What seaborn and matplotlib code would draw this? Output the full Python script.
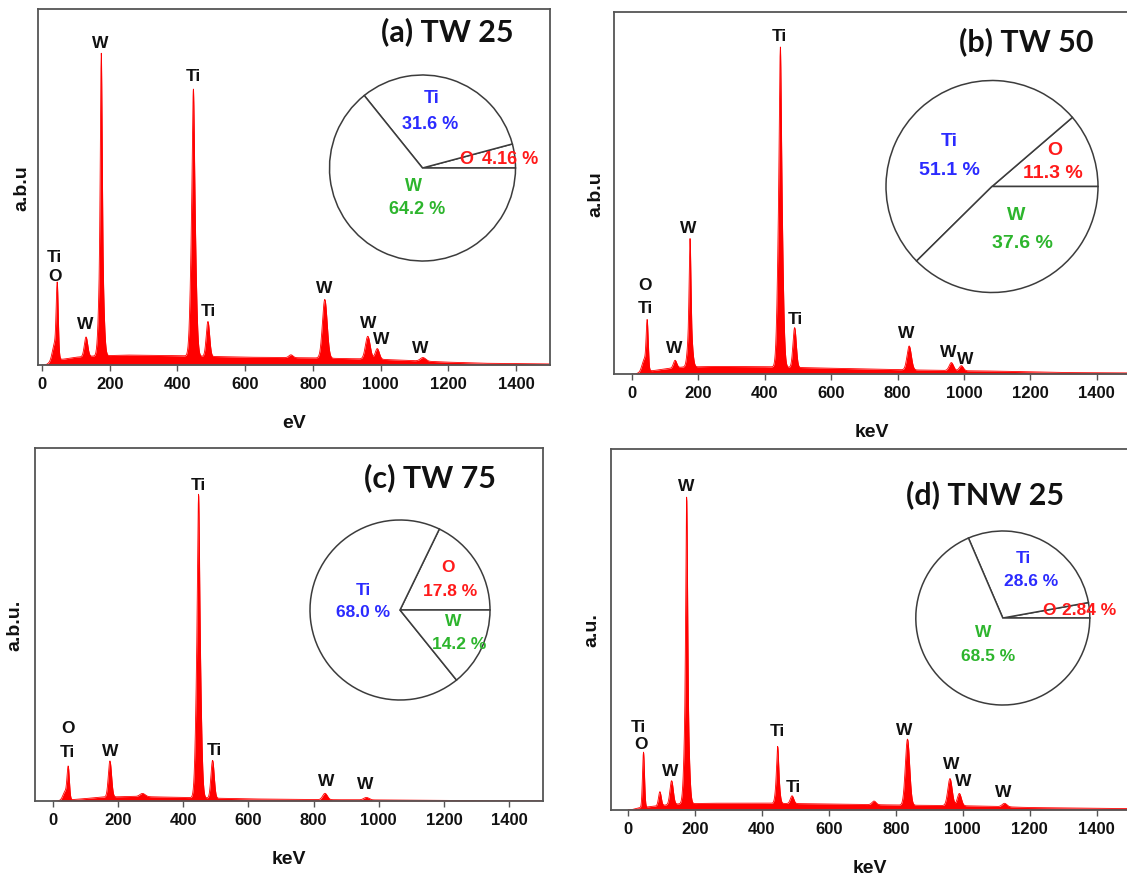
import numpy as np
import pandas as pd
import matplotlib
matplotlib.use("Agg")
import matplotlib.pyplot as plt
import seaborn as sns

# ---------------- spectra (intensity in % of full scale) ----------------
# continuum background, sampled along the energy axis
a_bg_e = [10, 30, 60, 100, 150, 250, 400, 600, 800, 1000, 1100, 1200, 1300, 1500]
a_bg_i = [0, 1.0, 1.6, 2.2, 2.5, 2.8, 2.6, 2.2, 2.0, 1.6, 1.2, 0.8, 0.5, 0.3]
b_bg_e = [10, 30, 60, 100, 150, 250, 400, 600, 800, 1000, 1100, 1200, 1300, 1500]
b_bg_i = [0, 0.6, 0.9, 1.4, 1.9, 2.1, 2.0, 1.6, 1.2, 0.9, 0.8, 0.6, 0.4, 0.3]
c_bg_e = [10, 30, 60, 100, 150, 250, 400, 600, 800, 1000, 1200, 1300, 1500]
c_bg_i = [0, 0.2, 0.4, 0.7, 1.1, 1.3, 1.0, 0.6, 0.4, 0.3, 0.2, 0.1, 0.05]
d_bg_e = [10, 30, 60, 100, 150, 250, 400, 600, 800, 1000, 1100, 1200, 1300, 1500]
d_bg_i = [0, 0.5, 0.8, 1.2, 1.6, 1.8, 1.8, 1.6, 1.3, 1.1, 0.9, 0.6, 0.5, 0.3]

# characteristic lines: centre, height above background, gaussian width
a_peak_e = [38, 45, 130, 175, 175, 447, 447, 490, 735, 835, 962, 990, 1125]
a_peak_h = [5, 19, 5.5, 49, 36, 20, 55, 9.8, 0.8, 16.5, 6.4, 3.0, 1.0]
a_peak_w = [7, 3, 5, 2.5, 6, 2.5, 6.5, 5, 6, 7, 7, 6, 8]

b_peak_e = [38, 46, 130, 175, 175, 447, 447, 490, 835, 962, 992]
b_peak_h = [3.5, 12.5, 2.1, 22, 13.5, 25, 63.5, 11, 6.6, 2.2, 1.4]
b_peak_w = [7, 3, 5, 2.5, 6, 2.5, 6.5, 5, 6.5, 6.5, 6]

c_peak_e = [38, 47, 175, 275, 447, 447, 490, 835, 962]
c_peak_h = [2.5, 8.5, 10.2, 0.9, 26, 60, 10.7, 1.8, 0.7]
c_peak_w = [7, 3.5, 5, 8, 2.5, 6.5, 5, 7, 8]

d_peak_e = [46, 95, 130, 175, 175, 447, 447, 490, 735, 835, 962, 990, 1125]
d_peak_h = [15.3, 3.85, 6.6, 50, 35, 6, 9.8, 2.15, 1.0, 18.3, 7.5, 3.4, 0.95]
d_peak_w = [3, 4, 5, 2.5, 6, 2.5, 5, 5, 6, 6.5, 6.5, 6, 7]

# peak labels: text, line energy, horizontal shift (px), gap above peak (px)
a_labels = [("O", 45, -2.5, 2), ("Ti", 45, -2.5, 21), ("W", 130, -1, 9), ("W", 175, -1, 6),
            ("Ti", 447, 0, 9), ("Ti", 490, 0, 6), ("W", 835, -1, 7), ("W", 962, 0, 9),
            ("W", 990, 3.6, 6), ("W", 1125, -3, 6)]
b_labels = [("Ti", 45, -1.8, 7), ("O", 45, -1.8, 30), ("W", 130, -1.4, 8), ("W", 175, -1.4, 7),
            ("Ti", 447, -1, 7), ("Ti", 490, 1, 5), ("W", 835, -2.9, 9), ("W", 962, -3.6, 7),
            ("W", 990, 4.6, 2.5)]
c_labels = [("Ti", 45, 0, 10), ("O", 45, 0, 34), ("W", 175, 0.7, 6.4), ("Ti", 447, 0, 5.3),
            ("Ti", 490, 1.8, 6.4), ("W", 835, 0.7, 8), ("W", 962, -1.4, 9)]
d_labels = [("O", 45, -2.5, 4.6), ("Ti", 45, -5, 21), ("W", 130, -1.8, 5.7), ("W", 175, 0, 7.3),
            ("Ti", 447, 0, 11), ("Ti", 490, 1, 4.7), ("W", 835, -3.6, 4.7), ("W", 962, 1, 10.6),
            ("W", 990, 4.3, 8.7), ("W", 1125, -1, 7.3)]

# ---------------- composition (at. %) ----------------
elements = ["O", "Ti", "W"]
a_comp = [4.16, 31.6, 64.2]
b_comp = [11.3, 51.1, 37.6]
c_comp = [17.8, 68.0, 14.2]
d_comp = [2.84, 28.6, 68.5]

titles = ["(a) TW 25", "(b) TW 50", "(c) TW 75", "(d) TNW 25"]
xlabels = ["eV", "keV", "keV", "keV"]
ylabels = ["a.b.u", "a.b.u", "a.b.u.", "a.u."]
xticks = [0, 200, 400, 600, 800, 1000, 1200, 1400]

# ---------------- layout (figure pixels) ----------------
W_PX, H_PX = 1127, 879
axes_px = [(37.6, 10, 550, 366), (614, 13.3, 1130, 375),
           (35, 449, 543, 802), (610.7, 450, 1130, 810.7)]
xlims = [(-13, 1500), (-54, 1500), (-55, 1504), (-52, 1500)]
title_px = [(447, 32), (1026, 42), (430, 478), (985, 495)]
ylabel_x_px = [22, 596, 15, 592]
pie_px = [(422.5, 169, 93), (992, 187.5, 106), (400, 611, 90), (1002.8, 619, 87)]
pie_font = [13, 14, 12.5, 12.5]
# label anchors inside each pie (unit radius): name position, value position
pie_text_pos = [
    {"Ti": ((0.10, 0.76), (0.08, 0.48)), "O": ((0.47, 0.10), (0.94, 0.10)),
     "W": ((-0.10, -0.19), (-0.06, -0.44))},
    {"Ti": ((-0.40, 0.43), (-0.40, 0.165)), "O": ((0.59, 0.35), (0.57, 0.13)),
     "W": ((0.23, -0.26), (0.29, -0.53))},
    {"Ti": ((-0.41, 0.23), (-0.41, -0.02)), "O": ((0.53, 0.48), (0.56, 0.22)),
     "W": ((0.59, -0.12), (0.66, -0.37))},
    {"Ti": ((0.24, 0.70), (0.32, 0.43)), "O": ((0.53, 0.10), (0.99, 0.10)),
     "W": ((-0.22, -0.16), (-0.17, -0.43))},
]
el_color = {"O": "#ff1a1a", "Ti": "#2b2bff", "W": "#2db52d"}

sns.set_theme(style="white")
plt.rcParams["font.family"] = ["Liberation Sans", "DejaVu Sans"]

fig = plt.figure(figsize=(W_PX / 100, H_PX / 100), dpi=100)

grid = np.arange(0, 1500.5, 0.5)


def build_spectrum(bg_e, bg_i, pk_e, pk_h, pk_w):
    y = np.interp(grid, bg_e, bg_i, left=0.0)
    for e, h, w in zip(pk_e, pk_h, pk_w):
        y = y + h * np.exp(-0.5 * ((grid - e) / w) ** 2)
    y[grid < bg_e[0]] = 0.0
    return y


panels = [
    (a_bg_e, a_bg_i, a_peak_e, a_peak_h, a_peak_w, a_labels, a_comp),
    (b_bg_e, b_bg_i, b_peak_e, b_peak_h, b_peak_w, b_labels, b_comp),
    (c_bg_e, c_bg_i, c_peak_e, c_peak_h, c_peak_w, c_labels, c_comp),
    (d_bg_e, d_bg_i, d_peak_e, d_peak_h, d_peak_w, d_labels, d_comp),
]

frame_col = "#555555"

for i, (bg_e, bg_i, pk_e, pk_h, pk_w, labels, comp) in enumerate(panels):
    l, t, r, b = axes_px[i]
    ax = fig.add_axes([l / W_PX, 1 - b / H_PX, (r - l) / W_PX, (b - t) / H_PX])
    spec = build_spectrum(bg_e, bg_i, pk_e, pk_h, pk_w)
    df = pd.DataFrame({"energy": grid, "counts": spec})
    ax.fill_between(df["energy"], 0, df["counts"], color="#ff0000", linewidth=0)
    sns.lineplot(data=df, x="energy", y="counts", ax=ax, color="#ff0000",
                 linewidth=0.6, estimator=None)
    ax.set_xlim(*xlims[i])
    ax.set_ylim(0, 100)
    ax.set_yticks([])
    ax.set_xticks(xticks)
    ax.set_xticklabels([str(v) for v in xticks], fontsize=12, fontweight="bold")
    ax.tick_params(axis="x", direction="out", length=4, width=1, color=frame_col,
                   pad=4, labelcolor="#111111", bottom=True)
    for sp in ax.spines.values():
        sp.set_color(frame_col)
        sp.set_linewidth(1.3)
    ax.set_xlabel(xlabels[i], fontsize=14, fontweight="bold", color="#111111")
    ax.xaxis.label.set_va("center")
    ax.xaxis.set_label_coords(0.5, -58 / (b - t))
    ax.set_ylabel(ylabels[i], fontsize=14, fontweight="bold", color="#111111")
    ax.yaxis.label.set_va("center")
    ax.yaxis.set_label_coords(-(l - ylabel_x_px[i]) / (r - l), 0.5)

    # peak identification labels
    for txt, e, dx, gap in labels:
        near = np.abs(grid - e) <= 6
        ytop = spec[near].max()
        ax.annotate(txt, xy=(e, ytop), xytext=(dx, gap), textcoords="offset pixels",
                    ha="center", va="baseline", fontsize=12.5, fontweight="bold",
                    color="#111111")

    # sample title
    tx, ty = title_px[i]
    fig.text(tx / W_PX, 1 - ty / H_PX, titles[i], ha="center", va="center",
             fontsize=22, fontweight="bold", family=["Lato", "DejaVu Sans"],
             color="#111111")

    # composition pie
    cx, cy, rad = pie_px[i]
    pax = fig.add_axes([(cx - rad) / W_PX, 1 - (cy + rad) / H_PX,
                        2 * rad / W_PX, 2 * rad / H_PX])
    pax.pie(comp, startangle=0, counterclock=True, colors=["white"] * 3,
            radius=1.0, wedgeprops=dict(edgecolor="#3c3c3c", linewidth=1.1))
    pax.set_xlim(-1, 1)
    pax.set_ylim(-1, 1)
    pax.set_aspect("equal")
    pax.axis("off")
    for el, val in zip(elements, comp):
        (nx, ny), (vx, vy) = pie_text_pos[i][el]
        pax.text(nx, ny, el, ha="center", va="center", fontsize=pie_font[i],
                 fontweight="bold", color=el_color[el], clip_on=False)
        pax.text(vx, vy, f"{val} %", ha="center", va="center", fontsize=pie_font[i],
                 fontweight="bold", color=el_color[el], clip_on=False)

fig.savefig("out.png", dpi=100)
